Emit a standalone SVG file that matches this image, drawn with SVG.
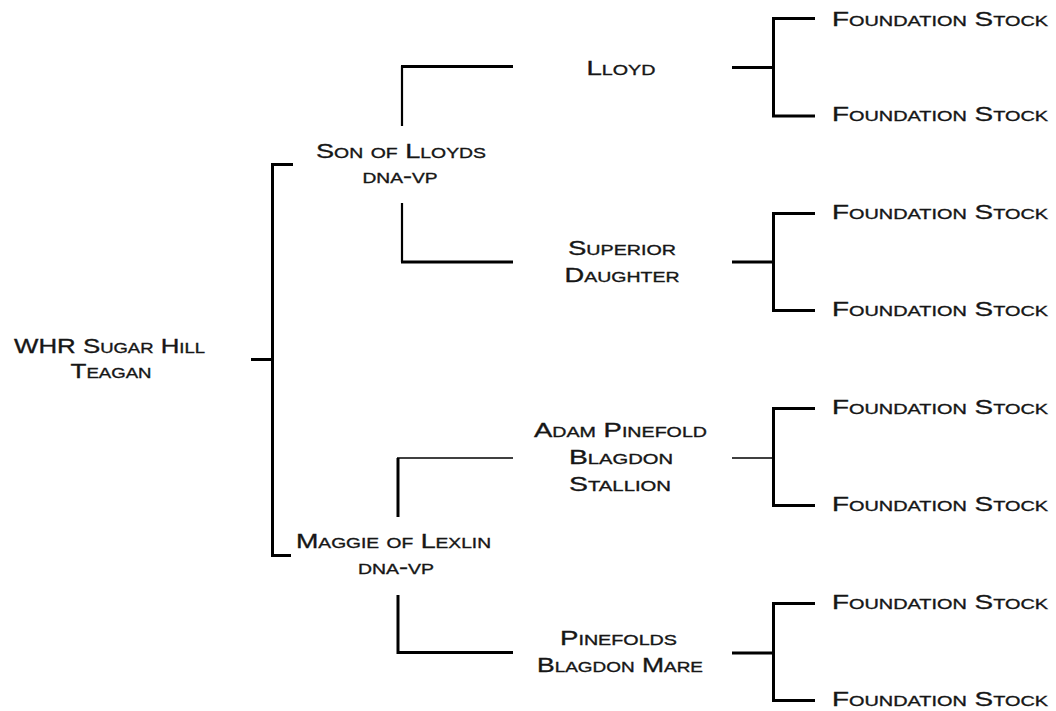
<svg xmlns="http://www.w3.org/2000/svg" width="1056" height="711" viewBox="0 0 1056 711">
<style>
text{font-family:"Liberation Sans","DejaVu Sans",Arial,sans-serif;font-size:21px;font-variant:small-caps;fill:#161616;stroke:#161616;stroke-width:0.35;text-anchor:middle}
.fs{text-anchor:start}
.c{stroke:#000;fill:none;stroke-width:3}
.t{stroke-width:1.6}
.m{stroke-width:2.2}
</style>
<rect width="1056" height="711" fill="#fff"/>
<g id="connectors">
<path class="c" d="M293,164.5 H272.5 V555.5 H291"/>
<path class="c" d="M251,359.5 H272.5"/>
<path class="c m" d="M402,126 V66"/>
<path class="c" d="M401,66.5 H513"/>
<path class="c m" d="M402,203 V262"/>
<path class="c" d="M401,262 H513"/>
<path class="c" d="M398,517 V458"/>
<path class="c t" d="M397,458 H513"/>
<path class="c" d="M398,595 V652.5 H513"/>
<path class="c" d="M732,67.5 H773"/>
<path class="c" d="M815,18.5 H773.5 V116 H815"/>
<path class="c" d="M732,262 H773"/>
<path class="c" d="M815,213.5 H773.5 V310.5 H815"/>
<path class="c t" d="M732,458 H773"/>
<path class="c" d="M815,408.5 H773.5 V505.5 H815"/>
<path class="c" d="M732,653 H773"/>
<path class="c" d="M815,603.5 H773.5 V700.5 H815"/>
</g>
<g id="n-teagan"><text x="109.5" y="352.5" textLength="191" lengthAdjust="spacingAndGlyphs">WHR Sugar Hill</text><text x="111" y="378" textLength="81" lengthAdjust="spacingAndGlyphs">Teagan</text></g>
<g id="n-sonoflloyds"><text x="401" y="157.5" textLength="170" lengthAdjust="spacingAndGlyphs">Son of Lloyds</text><text x="400" y="183" textLength="75" lengthAdjust="spacingAndGlyphs">dna-vp</text></g>
<g id="n-maggie"><text x="393.5" y="547.5" textLength="195" lengthAdjust="spacingAndGlyphs">Maggie of Lexlin</text><text x="396" y="574" textLength="76" lengthAdjust="spacingAndGlyphs">dna-vp</text></g>
<g id="n-lloyd"><text x="621" y="74.5" textLength="69" lengthAdjust="spacingAndGlyphs">Lloyd</text></g>
<g id="n-superior"><text x="622" y="255" textLength="108" lengthAdjust="spacingAndGlyphs">Superior</text><text x="622" y="282" textLength="115" lengthAdjust="spacingAndGlyphs">Daughter</text></g>
<g id="n-adam"><text x="620.5" y="437" textLength="173" lengthAdjust="spacingAndGlyphs">Adam Pinefold</text><text x="621" y="464" textLength="104" lengthAdjust="spacingAndGlyphs">Blagdon</text><text x="620" y="491" textLength="102" lengthAdjust="spacingAndGlyphs">Stallion</text></g>
<g id="n-pinefolds"><text x="618.5" y="645" textLength="117" lengthAdjust="spacingAndGlyphs">Pinefolds</text><text x="620" y="671.5" textLength="166" lengthAdjust="spacingAndGlyphs">Blagdon Mare</text></g>
<g id="n-fs1"><text class="fs" x="832" y="26" textLength="216" lengthAdjust="spacingAndGlyphs">Foundation Stock</text></g>
<g id="n-fs2"><text class="fs" x="832" y="121" textLength="216" lengthAdjust="spacingAndGlyphs">Foundation Stock</text></g>
<g id="n-fs3"><text class="fs" x="832" y="218.5" textLength="216" lengthAdjust="spacingAndGlyphs">Foundation Stock</text></g>
<g id="n-fs4"><text class="fs" x="832" y="316" textLength="216" lengthAdjust="spacingAndGlyphs">Foundation Stock</text></g>
<g id="n-fs5"><text class="fs" x="832" y="413.5" textLength="216" lengthAdjust="spacingAndGlyphs">Foundation Stock</text></g>
<g id="n-fs6"><text class="fs" x="832" y="511" textLength="216" lengthAdjust="spacingAndGlyphs">Foundation Stock</text></g>
<g id="n-fs7"><text class="fs" x="832" y="608.5" textLength="216" lengthAdjust="spacingAndGlyphs">Foundation Stock</text></g>
<g id="n-fs8"><text class="fs" x="832" y="706" textLength="216" lengthAdjust="spacingAndGlyphs">Foundation Stock</text></g>
</svg>
